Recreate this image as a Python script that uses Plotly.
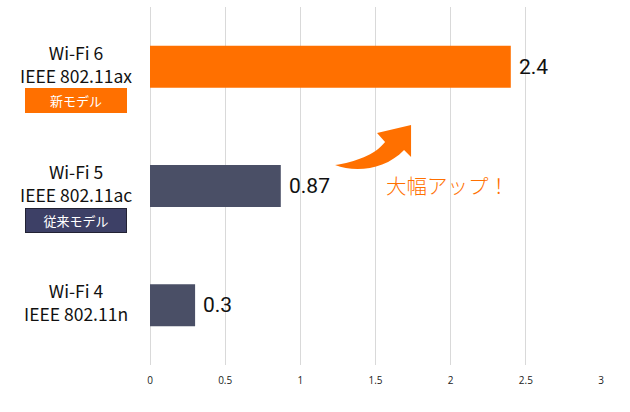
import plotly.graph_objects as go

# データ (上から順)
categories = ["Wi-Fi 6", "Wi-Fi 5", "Wi-Fi 4"]
standards = ["IEEE 802.11ax", "IEEE 802.11ac", "IEEE 802.11n"]
speeds = [2.4, 0.87, 0.3]
badges = ["新モデル", "従来モデル", None]
tick_vals = [0, 0.5, 1, 1.5, 2, 2.5, 3]

ORANGE = "#FF7000"
SLATE = "#4A4F66"
NAVY = "#3D4066"
JP_FONT = "Noto Sans CJK JP"

bar_colors = [ORANGE, SLATE, SLATE]
badge_colors = [ORANGE, NAVY, None]

fig = go.Figure()
fig.add_trace(go.Bar(
    x=speeds,
    y=categories,
    orientation="h",
    marker=dict(color=bar_colors, line=dict(width=0)),
    hoverinfo="skip",
))

LABEL_X = (76 - 150) / 451  # paper座標 (ラベル中心)

annotations = []
for cat, std, badge, bcol, val in zip(categories, standards, badges, badge_colors, speeds):
    annotations.append(dict(
        x=LABEL_X, y=cat, xref="paper", yref="y",
        xanchor="center", yanchor="middle",
        text=cat + "<br>" + std,
        showarrow=False, align="center", yshift=3,
        font=dict(family=JP_FONT, size=17.5, color="#111111"),
    ))
    # 値ラベル
    annotations.append(dict(
        x=val, y=cat, xref="x", yref="y",
        text=str(val), showarrow=False,
        xanchor="left", xshift=6,
        font=dict(family="Roboto", size=21, color="#111111"),
    ))
    if badge:
        annotations.append(dict(
            x=LABEL_X, y=cat, xref="paper", yref="y",
            xanchor="center", yanchor="middle",
            text=badge, showarrow=False, yshift=-34,
            width=100, height=23, borderpad=0,
            bgcolor=bcol,
            bordercolor="#222233" if bcol == NAVY else bcol,
            borderwidth=1,
            font=dict(family=JP_FONT, size=13, color="white"),
        ))

annotations.append(dict(
    x=1.98, y="Wi-Fi 5", xref="x", yref="y", yshift=1,
    text="大幅アップ！", showarrow=False,
    font=dict(family=JP_FONT, size=20.5, color=ORANGE, weight=300),
))

# 曲がった矢印 (ピクセル位置 -> x軸データ / paper)
def px(x):
    return (x - 150) / 150.3

def py(y):
    return (365 - y) / 358

arrow_path = (
    f"M {px(335)},{py(165)} "
    f"C {px(355)},{py(162)} {px(375)},{py(155)} {px(385)},{py(142)} "
    f"L {px(377)},{py(133)} L {px(411)},{py(125)} L {px(411)},{py(157)} "
    f"L {px(404)},{py(150)} "
    f"C {px(385)},{py(170)} {px(355)},{py(173)} {px(335)},{py(165)} Z"
)

fig.update_layout(
    width=630, height=412,
    margin=dict(l=150, r=29, t=7, b=47),
    paper_bgcolor="white", plot_bgcolor="white",
    showlegend=False,
    bargap=0.648,
    annotations=annotations,
    shapes=[dict(type="path", path=arrow_path, xref="x", yref="paper",
                 fillcolor=ORANGE, line=dict(width=0))],
    xaxis=dict(
        range=[0, 3], tickvals=tick_vals,
        ticktext=[str(v) for v in tick_vals],
        showgrid=True, gridcolor="#D9D9D9", gridwidth=1,
        zeroline=True, zerolinecolor="#D9D9D9", zerolinewidth=1,
        showline=False, ticks="", ticklabelstandoff=8,
        tickfont=dict(family="Open Sans", size=10, color="#222222"),
        fixedrange=True,
    ),
    yaxis=dict(
        categoryorder="array", categoryarray=categories,
        autorange="reversed", showticklabels=False,
        showgrid=False, zeroline=False, showline=False, fixedrange=True,
    ),
)

fig.write_html("out.html", config={"displayModeBar": False},
               post_script="document.body.style.margin='0';")
